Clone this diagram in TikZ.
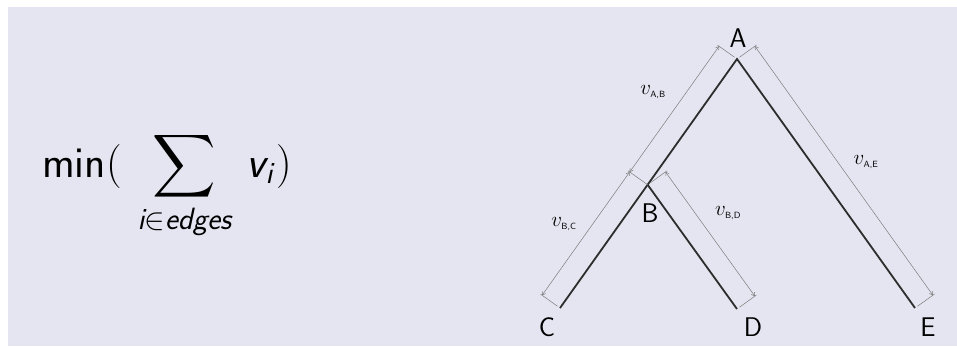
\RequirePackage{fix-cm}
\documentclass[tikz,border=0pt]{standalone}
\usepackage{amsmath,amssymb}
\usepackage{tikz}
\usetikzlibrary{
    arrows.meta,
    calc
}

\definecolor{slidebg}{RGB}{229,229,241}
\definecolor{edgegray}{RGB}{45,45,45}
\definecolor{dimgray}{RGB}{125,125,125}

\tikzset{
    treeedge/.style={draw=edgegray, line width=1.8pt},
    dimline/.style={draw=dimgray, line width=0.5pt,
        {Straight Barb[length=3pt,width=4pt]}-{Straight Barb[length=3pt,width=4pt]}},
    extline/.style={draw=dimgray, line width=0.5pt},
    leaf/.style={font=\fontsize{27}{27}\sffamily, inner sep=0pt},
    weight/.style={font=\fontsize{21}{21}\selectfont, inner sep=0pt}
}
\newcommand{\wlabel}[1]{$v_{\mbox{\fontsize{9}{9}\selectfont\sffamily #1}}$}

\begin{document}
\begin{tikzpicture}[x=1pt,y=-1pt]

% Slide background
\useasboundingbox (0,0) rectangle (957,346);
\fill[white] (0,0) rectangle (957,346);
\fill[slidebg] (8,7) rectangle (957,346);

% Objective
\node[anchor=base west, inner sep=0pt, font=\fontsize{44}{44}\selectfont] (formula) at (42,177)
    {$\textsf{min}(\hspace{16pt}\displaystyle\sum_{\textsf{\itshape i}\in\textsf{\itshape edges}}\hspace{8pt} \textsf{\itshape v}_{\textsf{\itshape i}}\hspace{3pt})$};

% Tree points
\coordinate (a) at (737,59);
\coordinate (c) at (560,308);
\coordinate (e) at (915,308);
\coordinate (b) at ($(a)!0.505!(c)$);
\coordinate (d) at (737,309);

% Tree edges
\draw[treeedge] (c) -- (a) -- (e);
\draw[treeedge] (b) -- (d);

% Offset points for the weights
\coordinate (a1) at ($(a)!22pt!-90:(c)$);
\coordinate (b1) at ($(b)!22pt!90:(a)$);
\coordinate (c1) at ($(c)!22pt!90:(a)$);
\coordinate (a2) at ($(a)!22pt!90:(e)$);
\coordinate (e2) at ($(e)!22pt!-90:(a)$);
\coordinate (b2) at ($(b)!22pt!90:(d)$);
\coordinate (d2) at ($(d)!22pt!-90:(b)$);

% Extension lines
\draw[extline] ($(a)!3pt!-90:(c)$) -- ($(a)!24pt!-90:(c)$);
\draw[extline] (b) -- ($(b)!24pt!90:(a)$);
\draw[extline] ($(c)!3pt!90:(a)$) -- ($(c)!24pt!90:(a)$);
\draw[extline] ($(a)!3pt!90:(e)$) -- ($(a)!24pt!90:(e)$);
\draw[extline] ($(e)!3pt!-90:(a)$) -- ($(e)!24pt!-90:(a)$);
\draw[extline] ($(b)!3pt!90:(d)$) -- ($(b)!24pt!90:(d)$);
\draw[extline] ($(d)!3pt!-90:(b)$) -- ($(d)!24pt!-90:(b)$);

% Weight lines
\draw[dimline] (a1) -- (b1);
\draw[dimline] (b1) -- (c1);
\draw[dimline] (a2) -- (e2);
\draw[dimline] (b2) -- (d2);

% Node labels
\node[leaf] (A) at (738,38) {A};
\node[leaf] (B) at (650,213) {B};
\node[leaf] (C) at (547,327) {C};
\node[leaf] (D) at (753,327) {D};
\node[leaf] (E) at (928,327) {E};

% Weight labels
\node[weight] (vab) at (653,92) {\wlabel{A,B}};
\node[weight] (vae) at (866,162) {\wlabel{A,E}};
\node[weight] (vbc) at (564,224) {\wlabel{B,C}};
\node[weight] (vbd) at (728,213) {\wlabel{B,D}};

\end{tikzpicture}
\end{document}
